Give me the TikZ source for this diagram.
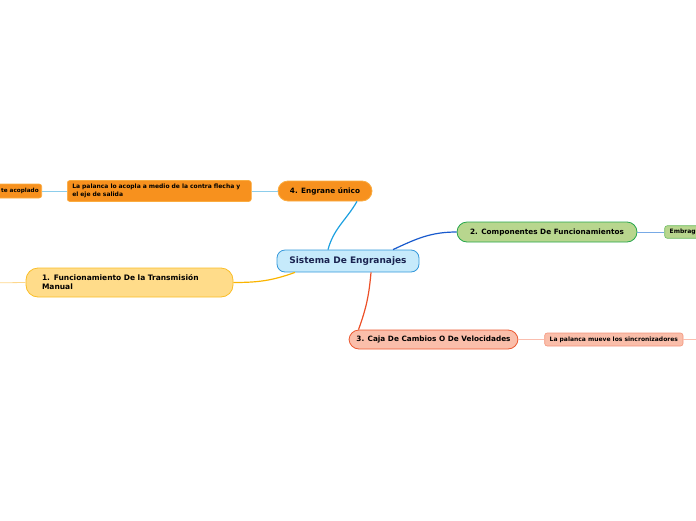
\documentclass[tikz,border=0pt]{standalone}
\usepackage{fontspec}
\setmainfont{DejaVu Sans}
\usepackage{xcolor}
\usepackage{tikz}
\usetikzlibrary{shapes.geometric, arrows, positioning}
\definecolor{sysfill}{RGB}{198, 234, 251}
\definecolor{sysborder}{RGB}{52, 152, 219}
\definecolor{systext}{RGB}{26, 35, 80}
\definecolor{engfill}{RGB}{247, 145, 30}
\definecolor{engborder}{RGB}{250, 172, 64}
\definecolor{engline}{RGB}{28, 160, 224}
\definecolor{engleafline}{RGB}{140, 205, 235}
\definecolor{compfill}{RGB}{184, 214, 142}
\definecolor{compborder}{RGB}{39, 166, 76}
\definecolor{compleaf}{RGB}{110, 190, 100}
\definecolor{compline}{RGB}{25, 90, 205}
\definecolor{compleafline}{RGB}{120, 170, 230}
\definecolor{funcfill}{RGB}{255, 220, 138}
\definecolor{funcborder}{RGB}{250, 190, 40}
\definecolor{funcline}{RGB}{250, 180, 0}
\definecolor{funcleafline}{RGB}{253, 215, 140}
\definecolor{cajafill}{RGB}{250, 190, 170}
\definecolor{cajaborder}{RGB}{236, 90, 50}
\definecolor{cajaleaf}{RGB}{243, 150, 125}
\definecolor{cajaline}{RGB}{236, 80, 40}
\definecolor{cajaleafline}{RGB}{250, 190, 175}

\begin{document}
\begin{tikzpicture}[
    x=1pt, y=1pt,
    central/.style={rectangle, rounded corners=8pt, minimum width=142pt, minimum height=22pt, text centered, draw=sysborder, line width=0.8pt, fill=sysfill, text=systext, font=\fontsize{9}{11}\selectfont\bfseries},
    branch/.style={rectangle, rounded corners=10pt, minimum height=20pt, text centered, line width=0.8pt, font=\fontsize{7.3}{8.6}\selectfont\bfseries},
    leaf/.style={rectangle, rounded corners=2.5pt, minimum height=13pt, inner xsep=5pt, line width=0.6pt, font=\fontsize{6}{7.4}\selectfont\bfseries},
    mainline/.style={line width=1.2pt},
    leafline/.style={line width=0.8pt}
]
\useasboundingbox (0,0) rectangle (696,-520);
\clip (0,0) rectangle (696,-520);

\node[central] (sys) at (348,-261) {Sistema De Engranajes};

\node[branch, fill=engfill, draw=engborder, minimum width=94pt] (eng4) at (325,-191) {4. Engrane único};
\node[leaf, fill=engfill, draw=engborder, text width=174pt, align=left, minimum height=21pt, left=26pt of eng4] (acopla) {La palanca lo acopla a medio de la contra flecha y\\el eje de salida};
\node[leaf, fill=engfill, draw=engborder, text width=70pt, align=right, minimum height=14pt, inner xsep=3pt, font=\fontsize{5.7}{7}\selectfont\bfseries, left=25pt of acopla] (acoplado) {te acoplado};

\node[branch, fill=compfill, draw=compborder, minimum width=180pt] (comp2) at (547,-232) {2. Componentes De Funcionamientos};
\node[leaf, fill=compfill, draw=compleaf, text width=60pt, align=left, minimum height=12pt, right=27pt of comp2] (embrague) {Embrague};

\node[branch, fill=funcfill, draw=funcborder, rounded corners=12pt, minimum height=29pt, text width=175pt, align=left, inner xsep=16pt, font=\fontsize{7.5}{9}\selectfont\bfseries] (func1) at (129.5,-282.5) {1. Funcionamiento De la Transmisión\\Manual};
\coordinate (funcout) at (-20,-283);

\node[branch, fill=cajafill, draw=cajaborder, minimum width=169pt, minimum height=19pt] (caja3) at (433.5,-339.5) {3. Caja De Cambios O De Velocidades};
\node[leaf, fill=cajafill, draw=cajaleaf, minimum width=136pt, right=26pt of caja3] (sincro) {La palanca mueve los sincronizadores};
\coordinate (sincroout) at (720,-339.5);

\draw[mainline, engline] ([xshift=-20pt]sys.north) to[out=75, in=-120] ([xshift=32pt]eng4.south);
\draw[mainline, compline] ([xshift=45pt]sys.north) to[out=25, in=180] (comp2.west);
\draw[mainline, funcline] ([xshift=-53pt]sys.south) to[out=200, in=0] (func1.east);
\draw[mainline, cajaline] ([xshift=23pt]sys.south) to[out=-95, in=70] ([xshift=-75pt]caja3.north);

\draw[leafline, engleafline] (acopla.east) -- (eng4.west);
\draw[leafline, engleafline] (acoplado.east) -- (acopla.west);
\draw[leafline, compleafline] (comp2.east) -- (embrague.west);
\draw[leafline, funcleafline] (func1.west) -- (funcout);
\draw[leafline, cajaleafline] (caja3.east) -- (sincro.west);
\draw[leafline, cajaleafline] (sincro.east) -- (sincroout);

\end{tikzpicture}
\end{document}
